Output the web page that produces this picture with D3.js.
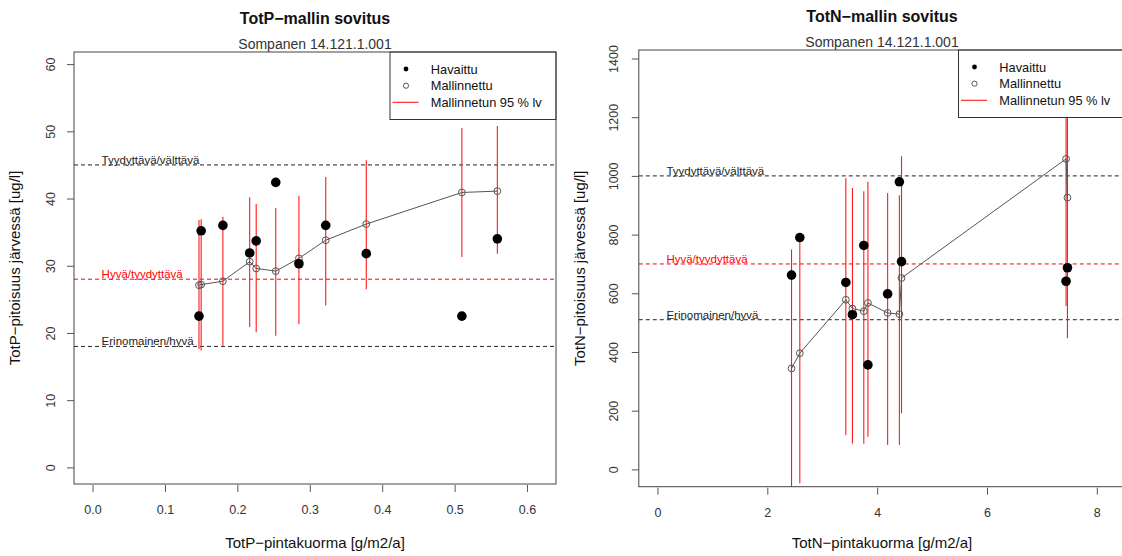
<!DOCTYPE html>
<html lang="fi">
<head>
<meta charset="utf-8">
<script src="https://d3js.org/d3.v7.min.js"></script>
<style>
body { margin: 0; background: #fff; }
svg { font-family: "Liberation Sans", Arial, sans-serif; }
</style>
</head>
<body>
<svg width="1122" height="556"></svg>
<script>
// TotP panel data
var pX   = [0.147, 0.150, 0.180, 0.217, 0.226, 0.253, 0.285, 0.322, 0.378, 0.510, 0.559];
var pObs = [22.5, 35.2, 36.0, 31.9, 33.7, 42.4, 30.3, 36.0, 31.8, 22.5, 34.0];
var pMod = [27.1, 27.2, 27.7, 30.6, 29.6, 29.2, 31.1, 33.8, 36.2, 40.9, 41.1];
var pLo  = [17.6, 17.4, 18.1, 20.9, 20.1, 19.6, 21.3, 24.1, 26.5, 31.3, 31.8];
var pHi  = [36.8, 36.9, 37.3, 40.2, 39.2, 38.6, 40.4, 43.2, 45.7, 50.5, 50.8];
var pTicksX = [0, 0.1, 0.2, 0.3, 0.4, 0.5, 0.6];
var pTicksY = [0, 10, 20, 30, 40, 50, 60];
var pLimits = [45, 28, 18];

// TotN panel data
var nX   = [2.441, 2.592, 3.430, 3.550, 3.757, 3.832, 4.191, 4.405, 4.444, 7.440, 7.465];
var nObs = [662, 790, 637, 527, 763, 356, 598, 980, 708, 641, 687];
var nMod = [344, 396, 578, 548, 539, 567, 533, 529, 652, 1058, 926];
var nLo  = [-80, -47, 117, 88, 87, 111, 83, 83, 191, 557, 447];
var nHi  = [749, 805, 993, 959, 948, 980, 942, 934, 1067, 1560, 1420];
var nTicksX = [0, 2, 4, 6, 8];
var nTicksY = [0, 200, 400, 600, 800, 1000, 1200, 1400];
var nLimits = [1000, 700, 510];

var limitNames = ["Tyydyttävä/välttävä", "Hyvä/tyydyttävä", "Erinomainen/hyvä"];
var limitColors = ["#222", "#ff0000", "#222"];
var legendNames = ["Havaittu", "Mallinnettu", "Mallinnetun 95 % lv"];
var subtitle = "Sompanen 14.121.1.001";

var svg = d3.select("svg");

function drawPanel(c, id) {
  var x = d3.scaleLinear().domain(c.xDomain).range([c.left, c.right]);
  var y = d3.scaleLinear().domain(c.yDomain).range([c.bottom, c.top]);
  var g = svg.append("g");

  g.append("clipPath").attr("id", id)
   .append("rect")
   .attr("x", c.left).attr("y", c.top)
   .attr("width", c.right - c.left).attr("height", c.bottom - c.top);

  // titles
  g.append("text")
   .attr("x", c.titleX).attr("y", c.top - 28)
   .attr("text-anchor", "middle")
   .attr("font-size", "16px").attr("font-weight", "bold").attr("fill", "#111")
   .text(c.title);
  g.append("text")
   .attr("x", c.titleX).attr("y", c.top - 3)
   .attr("text-anchor", "middle")
   .attr("font-size", "14px").attr("fill", "#333")
   .text(subtitle);

  // axes
  var xAxis = g.append("g")
   .attr("transform", "translate(0," + (c.bottom + 1) + ")")
   .call(d3.axisBottom(x).tickValues(c.ticksX).tickSize(7).tickSizeOuter(0)
     .tickFormat(c.xFmt));
  xAxis.select(".domain").remove();
  xAxis.selectAll("line").attr("stroke", "#555");
  xAxis.selectAll("text").attr("font-size", "12.5px").attr("fill", "#333")
   .attr("y", 25).attr("dy", "0.32em");

  var yAxis = g.append("g")
   .attr("transform", "translate(" + c.left + ",0)")
   .call(d3.axisLeft(y).tickValues(c.ticksY).tickSize(7).tickSizeOuter(0)
     .tickFormat(d3.format("d")));
  yAxis.select(".domain").remove();
  yAxis.selectAll("line").attr("stroke", "#555");
  yAxis.selectAll("text")
   .attr("font-size", "12.5px").attr("fill", "#333")
   .attr("x", null).attr("dy", null)
   .attr("text-anchor", "middle")
   .attr("transform", "translate(" + (c.tickLabelX - c.left + 4.5) + ",0) rotate(-90)");

  g.append("text")
   .attr("transform", "translate(" + (c.yTitleX + 5.3) + "," + ((c.top + c.bottom) / 2) + ") rotate(-90)")
   .attr("text-anchor", "middle").attr("font-size", "15px").attr("fill", "#111")
   .text(c.yTitle);
  g.append("text")
   .attr("x", c.titleX).attr("y", 548)
   .attr("text-anchor", "middle").attr("font-size", "15px").attr("fill", "#111")
   .text(c.xTitle);

  var plot = g.append("g").attr("clip-path", "url(#" + id + ")");

  // class limits
  c.limits.forEach(function(v, i) {
    plot.append("line")
     .attr("x1", c.left).attr("x2", c.right)
     .attr("y1", y(v)).attr("y2", y(v))
     .attr("stroke", limitColors[i]).attr("stroke-dasharray", "4,3");
    plot.append("text")
     .attr("x", c.left + 27.6).attr("y", y(v) - 1)
     .attr("font-size", "11.5px").attr("fill", limitColors[i])
     .text(limitNames[i]);
  });

  var idx = d3.range(c.xs.length);

  // 95 % intervals
  plot.selectAll(".ci").data(idx).enter().append("line")
   .attr("class", "ci")
   .attr("x1", function(i) { return x(c.xs[i]); })
   .attr("x2", function(i) { return x(c.xs[i]); })
   .attr("y1", function(i) { return y(c.lo[i]); })
   .attr("y2", function(i) { return y(c.hi[i]); })
   .attr("stroke", "#ff1a1a").attr("stroke-width", 1.1);

  // modelled line + circles
  plot.append("path")
   .attr("d", d3.line().x(function(i) { return x(c.xs[i]); })
                       .y(function(i) { return y(c.mod[i]); })(idx))
   .attr("fill", "none").attr("stroke", "#555").attr("stroke-width", 1);
  plot.selectAll(".mod").data(idx).enter().append("circle")
   .attr("class", "mod")
   .attr("cx", function(i) { return x(c.xs[i]); })
   .attr("cy", function(i) { return y(c.mod[i]); })
   .attr("r", 3.4)
   .attr("fill", "none").attr("stroke", "#555").attr("stroke-width", 1);

  // observed
  plot.selectAll(".obs").data(idx).enter().append("circle")
   .attr("class", "obs")
   .attr("cx", function(i) { return x(c.xs[i]); })
   .attr("cy", function(i) { return y(c.obs[i]); })
   .attr("r", 4.8).attr("fill", "#000");

  // legend
  var lg = g.append("g");
  lg.append("rect")
   .attr("x", c.legendX).attr("y", c.top)
   .attr("width", 166).attr("height", 67.5)
   .attr("fill", "#fff").attr("stroke", "#333");
  var rows = [17, 33.7, 50.3];
  lg.append("circle").attr("cx", c.legendX + 16).attr("cy", c.top + rows[0])
   .attr("r", 2.4).attr("fill", "#000");
  lg.append("circle").attr("cx", c.legendX + 16).attr("cy", c.top + rows[1])
   .attr("r", 2.6).attr("fill", "none").attr("stroke", "#555");
  lg.append("line")
   .attr("x1", c.legendX + 2.5).attr("x2", c.legendX + 28.5)
   .attr("y1", c.top + rows[2]).attr("y2", c.top + rows[2])
   .attr("stroke", "#ff1a1a").attr("stroke-width", 1.1);
  legendNames.forEach(function(t, i) {
    lg.append("text")
     .attr("x", c.legendX + 40.8).attr("y", c.top + rows[i] + 4.6)
     .attr("font-size", "12.8px").attr("fill", "#111")
     .text(t);
  });

  // box
  g.append("rect")
   .attr("x", c.left).attr("y", c.top)
   .attr("width", c.right - c.left).attr("height", c.bottom - c.top)
   .attr("fill", "none").attr("stroke", "#444");
}

drawPanel({
  title: "TotP\u2212mallin sovitus",
  xTitle: "TotP\u2212pintakuorma [g/m2/a]",
  yTitle: "TotP\u2212pitoisuus järvessä [ug/l]",
  left: 74, right: 556, top: 52, bottom: 484,
  xDomain: [-0.0256, 0.640], yDomain: [-2.47, 61.8],
  titleX: 315, tickLabelX: 50, yTitleX: 15, legendX: 390,
  ticksX: pTicksX, ticksY: pTicksY, xFmt: d3.format(".1f"),
  xs: pX, obs: pObs, mod: pMod, lo: pLo, hi: pHi, limits: pLimits
}, "clipP");

drawPanel({
  title: "TotN\u2212mallin sovitus",
  xTitle: "TotN\u2212pintakuorma [g/m2/a]",
  yTitle: "TotN\u2212pitoisuus järvessä [ug/l]",
  left: 638.8, right: 1124, top: 50, bottom: 486.7,
  xDomain: [-0.34, 8.495], yDomain: [-59, 1429],
  titleX: 882, tickLabelX: 613.3, yTitleX: 580, legendX: 958.5,
  ticksX: nTicksX, ticksY: nTicksY, xFmt: d3.format("d"),
  xs: nX, obs: nObs, mod: nMod, lo: nLo, hi: nHi, limits: nLimits
}, "clipN");
</script>
</body>
</html>
